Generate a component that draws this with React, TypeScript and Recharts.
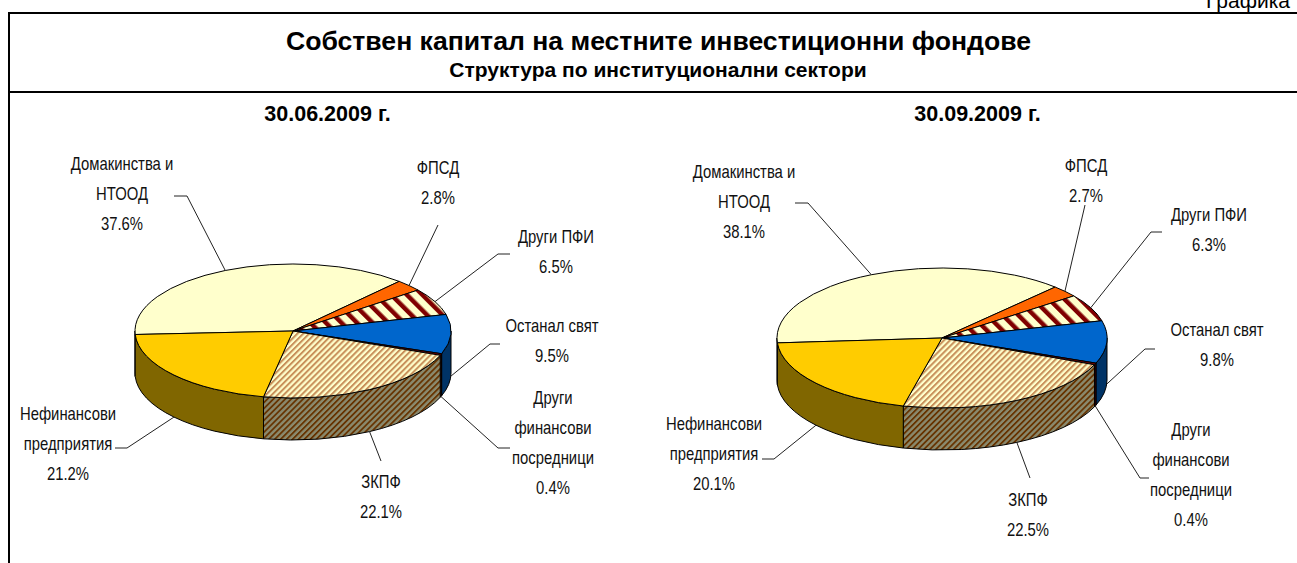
import React from "react";
import { PieChart, Pie } from "recharts";

const categories = ["Домакинства и НТООД", "ФПСД", "Други ПФИ", "Останал свят", "Други финансови посредници", "ЗКПФ", "Нефинансови предприятия"];
const juneValues = [37.6, 2.8, 6.5, 9.5, 0.4, 22.1, 21.2];
const septValues = [38.1, 2.7, 6.3, 9.8, 0.4, 22.5, 20.1];
const labelLines = [["Домакинства и", "НТООД"], ["ФПСД"], ["Други ПФИ"], ["Останал свят"], ["Други", "финансови", "посредници"], ["ЗКПФ"], ["Нефинансови", "предприятия"]];

const topFills = ["#FFFFCC", "#FF6600", "url(#wideStripes)", "#0066CC", "#800000", "url(#thinStripes)", "#FFCC00"];
const wallFills = ["#808066", "#803300", "#660000", "#003366", "#400000", "url(#thinStripesDark)", "#806600"];

// label layout: text centre x, first line y, elbow start / elbow end
type Lay = { x: number; y: number; from?: [number, number]; elbow?: [number, number] };
const juneLayout: Lay[] = [
  { x: 122, y: 163, from: [174, 196], elbow: [187, 196] },
  { x: 438, y: 167, from: [438, 225] },
  { x: 556, y: 236, from: [510, 254], elbow: [498, 254] },
  { x: 552, y: 325, from: [500, 344], elbow: [490, 344] },
  { x: 553, y: 397, from: [510, 448], elbow: [498, 448] },
  { x: 381, y: 481, from: [381, 461] },
  { x: 68, y: 413, from: [115, 448], elbow: [127, 448] },
];
const septLayout: Lay[] = [
  { x: 744, y: 171, from: [795, 203], elbow: [808, 203] },
  { x: 1086, y: 165, from: [1085, 205] },
  { x: 1209, y: 214, from: [1162, 232], elbow: [1151, 232] },
  { x: 1217, y: 329, from: [1155, 349], elbow: [1145, 349] },
  { x: 1191, y: 429, from: [1149, 478], elbow: [1140, 478] },
  { x: 1028, y: 499, from: [1030, 478] },
  { x: 714, y: 423, from: [762, 459], elbow: [774, 459] },
];

const DEPTH = 42;

const rad = (d: number) => (d * Math.PI) / 180;

function arcPath(cx: number, cy: number, rx: number, ry: number, s: number, e: number) {
  const x1 = cx + rx * Math.cos(-rad(s));
  const y1 = cy + ry * Math.sin(-rad(s));
  const x2 = cx + rx * Math.cos(-rad(e));
  const y2 = cy + ry * Math.sin(-rad(e));
  const large = Math.abs(s - e) > 180 ? 1 : 0;
  return { x1, y1, x2, y2, large };
}

const TopSlice = (p: any) => {
  const ry = p.outerRadius * p.squash;
  const a = arcPath(p.cx, p.cy, p.outerRadius, ry, p.startAngle, p.endAngle);
  return (
    <path
      d={`M${p.cx} ${p.cy}L${a.x1} ${a.y1}A${p.outerRadius} ${ry} 0 ${a.large} 1 ${a.x2} ${a.y2}Z`}
      fill={p.fill}
      stroke="#000"
      strokeWidth={1}
      strokeLinejoin="round"
    />
  );
};

const WallSlice = (p: any) => {
  const rx = p.outerRadius;
  const ry = rx * p.squash;
  const ranges: [number, number][] = [[0, -180], [-360, -540]];
  const out: React.ReactNode[] = [];
  ranges.forEach(([hi, lo], i) => {
    const s = Math.min(p.startAngle, hi);
    const e = Math.max(p.endAngle, lo);
    if (s <= e) return;
    const a = arcPath(p.cx, p.cy, rx, ry, s, e);
    out.push(
      <path
        key={i}
        d={`M${a.x1} ${a.y1}A${rx} ${ry} 0 ${a.large} 1 ${a.x2} ${a.y2}L${a.x2} ${a.y2 + DEPTH}A${rx} ${ry} 0 ${a.large} 0 ${a.x1} ${a.y1 + DEPTH}Z`}
        fill={p.fill}
        stroke="#000"
        strokeWidth={1}
        strokeLinejoin="round"
      />
    );
  });
  return <g>{out}</g>;
};

const makeLabel = (layout: Lay[], squash: number) => (p: any) => {
  const l = layout[p.index];
  const sinv = Math.sin(-rad(p.midAngle));
  const ex = p.cx + p.outerRadius * Math.cos(-rad(p.midAngle));
  const ey = p.cy + p.outerRadius * squash * sinv + (sinv > 0 ? DEPTH : 0);
  const pts = [l.from, l.elbow, [ex, ey]].filter(Boolean) as number[][];
  const lines = [...labelLines[p.index], `${Number(p.value).toFixed(1)}%`];
  return (
    <g>
      <polyline points={pts.map((q) => q.join(",")).join(" ")} fill="none" stroke="#222" strokeWidth={1} />
      {lines.map((t, i) => (
        <text
          key={i}
          transform={`translate(${l.x} ${l.y + i * 30}) scale(0.825 1)`}
          textAnchor="middle"
          dominantBaseline="central"
          fontFamily="'Liberation Sans',Arial,sans-serif"
          fontSize={18}
          fill="#111"
        >
          {t}
        </text>
      ))}
    </g>
  );
};

const table = (vals: number[], fills: string[]) => categories.map((name, i) => ({ name, value: vals[i], fill: fills[i] }));

const titleFont = "'Liberation Sans',Arial,sans-serif";

export default function App() {
  const pies = [
    { vals: juneValues, cx: 293, cy: 331, r: 158, squash: 67 / 158, start: -177, layout: juneLayout },
    { vals: septValues, cx: 942, cy: 338, r: 165, squash: 70 / 165, start: -176, layout: septLayout },
  ];
  return (
    <div style={{ position: "absolute", left: 0, top: 0, width: 1297, height: 563, overflow: "hidden", background: "#fff" }}>
      <PieChart width={1297} height={563} margin={{ top: 0, right: 0, bottom: 0, left: 0 }}>
        <defs>
          <pattern id="wideStripes" width="11" height="11" patternUnits="userSpaceOnUse" patternTransform="rotate(-45)">
            <rect width="11" height="11" fill="#FFFFCC" />
            <rect width="4.5" height="11" fill="#800000" />
          </pattern>
          <pattern id="thinStripes" width="4.2" height="4.2" patternUnits="userSpaceOnUse" patternTransform="rotate(45)">
            <rect width="4.2" height="4.2" fill="#FFFFCC" />
            <rect width="2" height="4.2" fill="#C8905A" />
          </pattern>
          <pattern id="thinStripesDark" width="4.2" height="4.2" patternUnits="userSpaceOnUse" patternTransform="rotate(45)">
            <rect width="4.2" height="4.2" fill="#8A8A6E" />
            <rect width="1.8" height="4.2" fill="#663300" />
          </pattern>
        </defs>
        {pies.map((c, k) => (
          <Pie
            key={`w${k}`}
            data={table(c.vals, wallFills)}
            dataKey="value"
            nameKey="name"
            cx={c.cx}
            cy={c.cy}
            outerRadius={c.r}
            startAngle={c.start}
            endAngle={c.start - 360}
            isAnimationActive={false}
            shape={(p: any) => <WallSlice {...p} squash={c.squash} />}
          />
        ))}
        {pies.map((c, k) => (
          <Pie
            key={`t${k}`}
            data={table(c.vals, topFills)}
            dataKey="value"
            nameKey="name"
            cx={c.cx}
            cy={c.cy}
            outerRadius={c.r}
            startAngle={c.start}
            endAngle={c.start - 360}
            isAnimationActive={false}
            labelLine={false}
            label={makeLabel(c.layout, c.squash)}
            shape={(p: any) => <TopSlice {...p} squash={c.squash} />}
          />
        ))}
        <text x={1290} y={8} textAnchor="end" fontFamily={titleFont} fontSize={21} fill="#000">Графика</text>
        <line x1={9} y1={13} x2={1297} y2={13} stroke="#000" strokeWidth={2} />
        <line x1={9} y1={92} x2={1297} y2={92} stroke="#000" strokeWidth={2} />
        <line x1={9} y1={12} x2={9} y2={563} stroke="#000" strokeWidth={2} />
        <text x={658.5} y={41} textAnchor="middle" dominantBaseline="central" fontFamily={titleFont} fontWeight="bold" fontSize={26.6} fill="#000">Собствен капитал на местните инвестиционни фондове</text>
        <text x={658} y={69} textAnchor="middle" dominantBaseline="central" fontFamily={titleFont} fontWeight="bold" fontSize={21} fill="#000">Структура по институционални сектори</text>
        <text x={327.5} y={114} textAnchor="middle" dominantBaseline="central" fontFamily={titleFont} fontWeight="bold" fontSize={21.5} fill="#000">30.06.2009 г.</text>
        <text x={977.5} y={114} textAnchor="middle" dominantBaseline="central" fontFamily={titleFont} fontWeight="bold" fontSize={21.5} fill="#000">30.09.2009 г.</text>
      </PieChart>
    </div>
  );
}
